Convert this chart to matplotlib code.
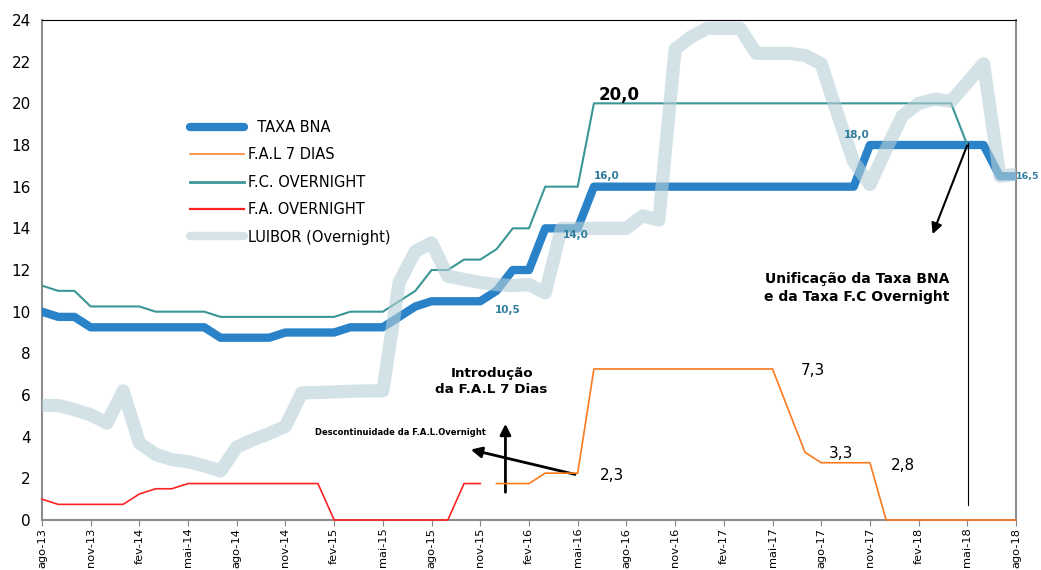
import numpy as np
import matplotlib
matplotlib.use("Agg")
import matplotlib.pyplot as plt
from matplotlib.lines import Line2D

nan = np.nan

# monthly data, ago-13 .. ago-18 (61 months)
tick_labels = ['ago-13', 'nov-13', 'fev-14', 'mai-14', 'ago-14', 'nov-14', 'fev-15',
               'mai-15', 'ago-15', 'nov-15', 'fev-16', 'mai-16', 'ago-16', 'nov-16',
               'fev-17', 'mai-17', 'ago-17', 'nov-17', 'fev-18', 'mai-18', 'ago-18']

taxa_bna = ([10.0, 9.75, 9.75] + [9.25] * 8 + [8.75] * 4 + [9.0] * 4 + [9.25] * 3 +
            [9.75, 10.25] + [10.5] * 4 + [11.0, 12.0, 12.0] + [14.0] * 3 +
            [16.0] * 17 + [18.0] * 8 + [16.5] * 2)

fc_overnight = ([11.25, 11.0, 11.0] + [10.25] * 4 + [10.0] * 4 + [9.75] * 8 + [10.0] * 3 +
                [10.5, 11.0, 12.0, 12.0, 12.5, 12.5, 13.0, 14.0, 14.0] + [16.0] * 3 +
                [20.0] * 23 + [18.0] + [nan] * 3)

fa_overnight = ([1.0] + [0.75] * 5 + [1.25, 1.5, 1.5] + [1.75] * 9 + [0.0] * 8 +
                [1.75, 1.75] + [nan] * 33)

fal_7dias = ([nan] * 28 + [1.75] * 3 + [2.25] * 3 + [7.25] * 12 + [5.25, 3.25] +
             [2.75] * 4 + [0.0] * 9)

luibor = [5.5, 5.5, 5.3, 5.05, 4.65, 6.2, 3.7, 3.15, 2.9, 2.8, 2.6, 2.35, 3.5, 3.85,
          4.15, 4.5, 6.1, 6.12, 6.15, 6.18, 6.2, 6.2, 11.4, 12.9, 13.3, 11.7, 11.55,
          11.4, 11.3, 11.25, 11.3, 10.9, 14.0, 14.0, 14.0, 14.0, 14.0, 14.6, 14.4,
          22.6, 23.2, 23.6, 23.6, 23.6, 22.4, 22.4, 22.4, 22.3, 21.9, 19.5, 17.2,
          16.1, 17.8, 19.4, 20.0, 20.2, 20.1, 21.0, 21.9, 16.5, 16.6]

x = np.arange(len(taxa_bna))

c_bna = '#2A83C8'
c_fal = '#FA7A1E'
c_fc = '#3C9696'
c_fa = '#FF2222'
c_lui = '#B7CFD6'
c_lab = '#2F7C9C'

fig = plt.figure(figsize=(10.41, 5.70), dpi=100)
ax = fig.add_axes([0.0403, 0.0877, 0.9357, 0.8772])

ax.plot(x, taxa_bna, color=c_bna, lw=6, solid_joinstyle='round', solid_capstyle='round', zorder=3)
ax.plot(x, fal_7dias, color=c_fal, lw=1.2, zorder=5, clip_on=False)
ax.plot(x, fc_overnight, color=c_fc, lw=1.5, zorder=3)
ax.plot(x, fa_overnight, color=c_fa, lw=1.2, zorder=5, clip_on=False)
ax.plot(x, luibor, color=c_lui, lw=9.5, alpha=0.6, solid_joinstyle='round',
        solid_capstyle='round', zorder=4)

ax.set_xlim(0, 60)
ax.set_ylim(0, 24)
ax.set_yticks(np.arange(0, 25, 2))
ax.set_xticks(np.arange(0, 61, 3))
ax.set_xticklabels(tick_labels, rotation=90, fontsize=8.2)
ax.tick_params(axis='y', length=0, labelsize=11, pad=8)
ax.tick_params(axis='x', length=4, color='#888888', pad=1.5)

for s in ['left', 'bottom', 'right']:
    ax.spines[s].set_color('#8C8C8C')
    ax.spines[s].set_linewidth(1.5)
ax.spines['top'].set_color('black')
ax.spines['top'].set_linewidth(0.8)

# legend
handles = [
    Line2D([], [], color=c_bna, lw=6, solid_capstyle='round'),
    Line2D([], [], color=c_fal, lw=1.1),
    Line2D([], [], color=c_fc, lw=2),
    Line2D([], [], color=c_fa, lw=1.6),
    Line2D([], [], color='#D5E2E6', lw=6, solid_capstyle='round'),
]
labels = ['  TAXA BNA', 'F.A.L 7 DIAS', 'F.C. OVERNIGHT', 'F.A. OVERNIGHT', 'LUIBOR (Overnight)']
fig.legend(handles, labels, loc='upper left', bbox_to_anchor=(190 / 1041, 1 - 120 / 570),
           frameon=False, fontsize=10.5, handlelength=3.7, handletextpad=0.3,
           labelspacing=0.85, borderaxespad=0, borderpad=0)

# data labels
ax.text(34.3, 20.4, '20,0', fontsize=12, fontweight='bold', ha='left', va='center')
for xv, yv, t in [(28.7, 10.08, '10,5'), (32.9, 13.68, '14,0'), (34.8, 16.5, '16,0'),
                  (50.2, 18.5, '18,0')]:
    ax.text(xv, yv, t, fontsize=7.5, fontweight='bold', color=c_lab, ha='center',
            va='center', zorder=6)
ax.text(59.98, 16.47, '16,5', fontsize=6.8, fontweight='bold', color=c_lab, ha='left',
        va='center', clip_on=False, zorder=6)
for xv, yv, t in [(47.5, 7.2, '7,3'), (49.2, 3.2, '3,3'), (53.05, 2.64, '2,8'),
                  (35.1, 2.16, '2,3')]:
    ax.text(xv, yv, t, fontsize=11, ha='center', va='center')

# annotations
ax.text(16.8, 4.22, 'Descontinuidade da F.A.L.Overnight', fontsize=6, fontweight='bold',
        ha='left', va='center', zorder=6)
ax.annotate('', xy=(26.25, 3.41), xytext=(33.0, 2.16),
            arrowprops=dict(arrowstyle='-|>', color='black', lw=2, mutation_scale=16))
ax.annotate('', xy=(28.55, 4.75), xytext=(28.55, 1.2),
            arrowprops=dict(arrowstyle='-|>', color='black', lw=2, mutation_scale=16))
ax.text(27.7, 6.67, 'Introdução\nda F.A.L 7 Dias', fontsize=9.7, fontweight='bold',
        ha='center', va='center', linespacing=1.3)

ax.text(50.2, 11.14, 'Unificação da Taxa BNA\ne da Taxa F.C Overnight', fontsize=10,
        fontweight='bold', ha='center', va='center', linespacing=1.3)
ax.annotate('', xy=(54.8, 13.6), xytext=(57.05, 18.1),
            arrowprops=dict(arrowstyle='-|>', color='black', lw=1.5, mutation_scale=16),
            zorder=6)
ax.plot([57.05, 57.05], [0.7, 18.1], color='black', lw=0.8, zorder=6)

fig.savefig('out.png', dpi=100)
